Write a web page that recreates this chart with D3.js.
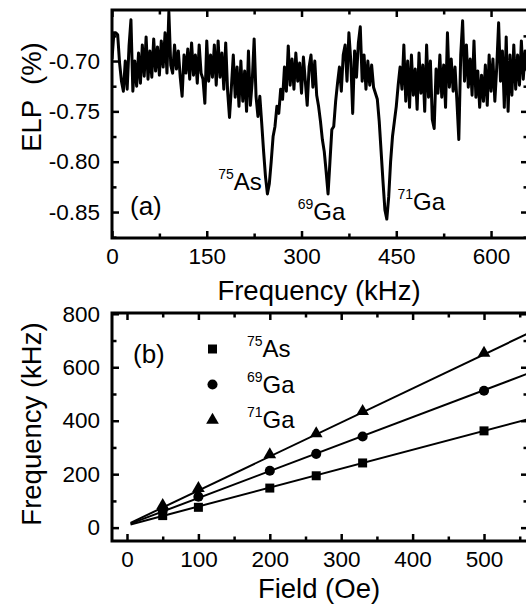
<!DOCTYPE html>
<html>
<head>
<meta charset="utf-8">
<script src="https://cdn.jsdelivr.net/npm/d3@7"></script>
<style>
  body { margin: 0; background: #fff; }
  text { font-family: "Liberation Sans", Arial, sans-serif; fill: #000; }
</style>
</head>
<body>
<div id="my_dataviz"></div>
<script>
// ---------- panel (a) data: ELP spectrum, one value every freqStep kHz starting at 0
var freqStep = 3;
var elpValues = [
  -0.698, -0.672, -0.672, -0.674, -0.702, -0.720, -0.730, -0.700, -0.728, -0.685,
  -0.659, -0.730, -0.700, -0.725, -0.692, -0.722, -0.684, -0.715, -0.676, -0.718,
  -0.690, -0.716, -0.678, -0.710, -0.686, -0.714, -0.680, -0.706, -0.672, -0.712,
  -0.651, -0.704, -0.712, -0.684, -0.708, -0.690, -0.716, -0.735, -0.694, -0.712,
  -0.688, -0.718, -0.682, -0.714, -0.694, -0.722, -0.684, -0.712, -0.718, -0.742,
  -0.680, -0.720, -0.694, -0.716, -0.684, -0.724, -0.680, -0.716, -0.692, -0.728,
  -0.682, -0.730, -0.756, -0.726, -0.694, -0.736, -0.706, -0.745, -0.700, -0.740,
  -0.710, -0.750, -0.690, -0.744, -0.720, -0.678, -0.735, -0.755, -0.735, -0.762,
  -0.790, -0.815, -0.832, -0.822, -0.800, -0.775, -0.765, -0.745, -0.752, -0.728,
  -0.738, -0.706, -0.730, -0.685, -0.724, -0.698, -0.728, -0.692, -0.720, -0.702,
  -0.732, -0.696, -0.720, -0.744, -0.706, -0.694, -0.726, -0.700, -0.734, -0.745,
  -0.760, -0.778, -0.790, -0.810, -0.832, -0.800, -0.768, -0.765, -0.740, -0.722,
  -0.706, -0.730, -0.694, -0.684, -0.720, -0.672, -0.700, -0.752, -0.690, -0.716,
  -0.682, -0.666, -0.720, -0.694, -0.728, -0.700, -0.724, -0.704, -0.726, -0.732,
  -0.738, -0.760, -0.790, -0.820, -0.848, -0.857, -0.835, -0.800, -0.775, -0.760,
  -0.745, -0.724, -0.706, -0.728, -0.684, -0.740, -0.700, -0.746, -0.694, -0.734,
  -0.708, -0.748, -0.692, -0.732, -0.704, -0.750, -0.684, -0.736, -0.700, -0.758,
  -0.767, -0.708, -0.732, -0.694, -0.736, -0.704, -0.746, -0.672, -0.726, -0.698,
  -0.730, -0.706, -0.740, -0.778, -0.694, -0.660, -0.720, -0.684, -0.726, -0.698,
  -0.734, -0.680, -0.736, -0.710, -0.746, -0.714, -0.740, -0.704, -0.744, -0.694,
  -0.730, -0.698, -0.740, -0.706, -0.662, -0.720, -0.690, -0.746, -0.676, -0.750,
  -0.694, -0.734, -0.684, -0.728, -0.694, -0.724, -0.680, -0.718, -0.690, -0.710
];
var elpTicks = [-0.85, -0.80, -0.75, -0.70];
var elpMinorTicks = [-0.875, -0.825, -0.775, -0.725, -0.675];
var spectrumTicks = [0, 150, 300, 450, 600];
var spectrumMinorTicks = [75, 225, 375, 525, 675];

// peak labels in panel (a)
var peakMass = ["75", "69", "71"];
var peakName = ["As", "Ga", "Ga"];
var peakFreq = [168, 294, 452];
var peakElp = [-0.828, -0.858, -0.848];

// ---------- panel (b) data: resonance frequency vs field
var fieldValues = [50, 100, 200, 265, 330, 500];
var freqAs75 = [45, 76, 148, 194, 242, 362];
var freqGa69 = [64, 116, 213, 276, 341, 512];
var freqGa71 = [83, 147, 273, 352, 435, 653];
// straight fits, value at each end of fitField
var fitField = [5, 562];
var fitAs75 = [12, 406];
var fitGa69 = [15, 577];
var fitGa71 = [18, 727];
var isoMass = ["75", "69", "71"];
var isoName = ["As", "Ga", "Ga"];
var fieldTicks = [0, 100, 200, 300, 400, 500];
var fieldMinorTicks = [50, 150, 250, 350, 450, 550];
var freqTicks = [0, 200, 400, 600, 800];
var freqMinorTicks = [100, 300, 500, 700];

// ---------- svg
var svg = d3.select("#my_dataviz")
  .append("svg")
    .attr("width", 526)
    .attr("height", 606);

var tickFont = 22.5, titleFont = 27.5;

// helper: draws ticks pointing inward on all four sides, frame and labels
function drawFrame(g, x, y, xTicks, xMinor, yTicks, yMinor, yFormat) {
  var w = x.range()[1] - x.range()[0], h = y.range()[0] - y.range()[1];
  var left = x.range()[0], top = y.range()[1];

  var axes = [
    { gen: d3.axisBottom, scale: x, t: "translate(0," + (top + h) + ")", ticks: xTicks, minor: xMinor, lab: true },
    { gen: d3.axisTop, scale: x, t: "translate(0," + top + ")", ticks: xTicks, minor: xMinor, lab: false },
    { gen: d3.axisLeft, scale: y, t: "translate(" + left + ",0)", ticks: yTicks, minor: yMinor, lab: true },
    { gen: d3.axisRight, scale: y, t: "translate(" + (left + w) + ",0)", ticks: yTicks, minor: yMinor, lab: false }
  ];
  axes.forEach(function(a) {
    var isX = (a.scale === x);
    var major = a.gen(a.scale).tickValues(a.ticks).tickSize(-7)
      .tickPadding(isX ? 10 : 12)
      .tickFormat(a.lab ? (isX ? d3.format("d") : yFormat) : "");
    var minor = a.gen(a.scale).tickValues(a.minor.filter(function(v) {
        var d = a.scale.domain(); return v > Math.min(d[0], d[1]) && v < Math.max(d[0], d[1]);
      })).tickSize(-4.5).tickFormat("");
    [major, minor].forEach(function(ax) {
      var ga = g.append("g").attr("transform", a.t).call(ax);
      ga.select(".domain").remove();
      ga.selectAll("line").attr("stroke", "#000").attr("stroke-width", 2.5);
      ga.selectAll("text").style("font-size", tickFont + "px")
        .style("font-family", '"Liberation Sans", Arial, sans-serif').attr("fill", "#000");
    });
  });

  g.append("rect")
    .attr("x", left).attr("y", top)
    .attr("width", w).attr("height", h)
    .attr("fill", "none")
    .attr("stroke", "#000")
    .attr("stroke-width", 3);
}

function isoLabel(g, xPos, yPos, mass, name, bigSize) {
  var t = g.append("text")
    .attr("x", xPos).attr("y", yPos)
    .style("font-size", bigSize + "px");
  t.append("tspan").text(mass).style("font-size", "14px").attr("dy", -11);
  t.append("tspan").text(name).attr("dy", 11);
}

// ================= panel (a) =================
var xa = d3.scaleLinear().domain([0, 658.5]).range([112, 528]);
var ya = d3.scaleLinear().domain([-0.8758, -0.6493]).range([238, 10]);

var ga = svg.append("g");
ga.append("clipPath").attr("id", "clipA")
  .append("rect").attr("x", 112).attr("y", 10).attr("width", 416).attr("height", 228);

ga.append("path")
  .datum(elpValues)
  .attr("clip-path", "url(#clipA)")
  .attr("fill", "none")
  .attr("stroke", "#000")
  .attr("stroke-width", 3)
  .attr("stroke-linejoin", "round")
  .attr("d", d3.line()
    .x(function(d, i) { return xa(i * freqStep) })
    .y(function(d) { return ya(d) })
  );

drawFrame(ga, xa, ya, spectrumTicks, spectrumMinorTicks, elpTicks, elpMinorTicks,
  function(d) { return d.toFixed(2) });

ga.append("text").attr("x", 130).attr("y", 215).style("font-size", "26px").text("(a)");
peakMass.forEach(function(m, i) {
  isoLabel(ga, xa(peakFreq[i]), ya(peakElp[i]), m, peakName[i], 24);
});

ga.append("text")
  .attr("x", 319).attr("y", 300)
  .attr("text-anchor", "middle")
  .style("font-size", titleFont + "px")
  .text("Frequency (kHz)");
ga.append("text")
  .attr("transform", "translate(41,97) rotate(-90)")
  .attr("text-anchor", "middle")
  .style("font-size", titleFont + "px")
  .style("white-space", "pre")
  .attr("xml:space", "preserve")
  .text("ELP  (%)");

// ================= panel (b) =================
var xb = d3.scaleLinear().domain([-21, 561.6]).range([112, 528]);
var yb = d3.scaleLinear().domain([-50, 803]).range([541, 313]);

var gb = svg.append("g");
gb.append("clipPath").attr("id", "clipB")
  .append("rect").attr("x", 112).attr("y", 313).attr("width", 416).attr("height", 228);

var fits = [fitAs75, fitGa69, fitGa71];
var series = [freqAs75, freqGa69, freqGa71];
var symbols = [d3.symbol().type(d3.symbolSquare).size(81),
               d3.symbol().type(d3.symbolCircle).size(80),
               d3.symbol().type(d3.symbolTriangle).size(70)];

fits.forEach(function(f) {
  gb.append("line")
    .attr("clip-path", "url(#clipB)")
    .attr("x1", xb(fitField[0])).attr("y1", yb(f[0]))
    .attr("x2", xb(fitField[1])).attr("y2", yb(f[1]))
    .attr("stroke", "#000")
    .attr("stroke-width", 2);
});

series.forEach(function(s, k) {
  gb.selectAll(".pt" + k)
    .data(s)
    .enter()
    .append("path")
      .attr("d", symbols[k])
      .attr("transform", function(d, i) { return "translate(" + xb(fieldValues[i]) + "," + yb(d) + ")" })
      .attr("fill", "#000");
});

drawFrame(gb, xb, yb, fieldTicks, fieldMinorTicks, freqTicks, freqMinorTicks, d3.format("d"));

gb.append("text").attr("x", 133).attr("y", 363).style("font-size", "26px").text("(b)");

// legend
isoMass.forEach(function(m, i) {
  var ly = 349 + i * 35.5;
  gb.append("path")
    .attr("d", symbols[i])
    .attr("transform", "translate(212.5," + ly + ")")
    .attr("fill", "#000");
  isoLabel(gb, 247, ly + 8, m, isoName[i], 24);
});

gb.append("text")
  .attr("x", 319).attr("y", 598)
  .attr("text-anchor", "middle")
  .style("font-size", titleFont + "px")
  .text("Field (Oe)");
gb.append("text")
  .attr("transform", "translate(41,424) rotate(-90)")
  .attr("text-anchor", "middle")
  .style("font-size", titleFont + "px")
  .text("Frequency (kHz)");
</script>
</body>
</html>
